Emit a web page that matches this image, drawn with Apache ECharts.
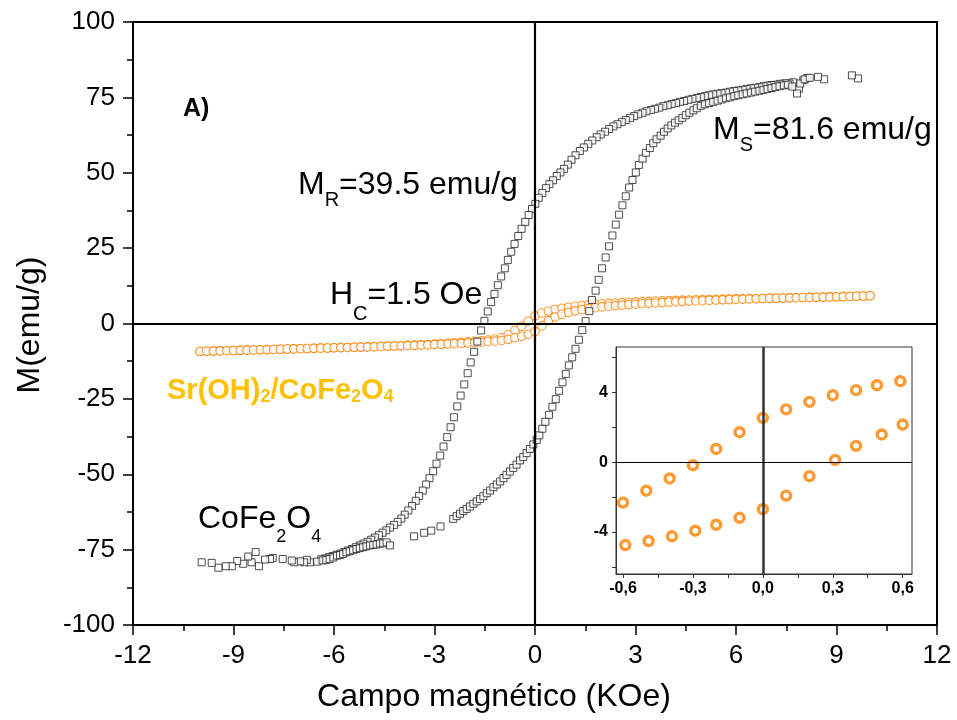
<!DOCTYPE html>
<html><head><meta charset="utf-8">
<script src="https://cdn.jsdelivr.net/npm/echarts@6/dist/echarts.min.js"></script>
<style>html,body{margin:0;padding:0;background:#fff}#c{width:957px;height:720px}</style>
</head><body><div id="c"></div>
<script>
// ---------- DATA ----------
const xTicks = [-12, -9, -6, -3, 0, 3, 6, 9, 12];
const yTicks = [-100, -75, -50, -25, 0, 25, 50, 75, 100];
const insetXLabels = [-0.6, -0.3, 0, 0.3, 0.6];
const insetXTicks = [-0.6, -0.45, -0.3, -0.15, 0, 0.15, 0.3, 0.45, 0.6];
const insetYLabels = [-4, 0, 4];
const insetYTicks = [-6, -4, -2, 0, 2, 4, 6];

// Sr(OH)2/CoFe2O4 main loop: field (kOe)
const fieldSr = [-10,-9.8,-9.6,-9.4,-9.2,-9,-8.8,-8.6,-8.4,-8.2,
  -8,-7.8,-7.6,-7.4,-7.2,-7,-6.8,-6.6,-6.4,-6.2,
  -6,-5.8,-5.6,-5.4,-5.2,-5,-4.8,-4.6,-4.4,-4.2,
  -4,-3.8,-3.6,-3.4,-3.2,-3,-2.8,-2.6,-2.4,-2.2,
  -2,-1.8,-1.6,-1.4,-1.2,-1,-0.8,-0.6,-0.4,-0.2,
  0,0.2,0.4,0.6,0.8,1,1.2,1.4,1.6,1.8,
  2,2.2,2.4,2.6,2.8,3,3.2,3.4,3.6,3.8,
  4,4.2,4.4,4.6,4.8,5,5.2,5.4,5.6,5.8,
  6,6.2,6.4,6.6,6.8,7,7.2,7.4,7.6,7.8,
  8,8.2,8.4,8.6,8.8,9,9.2,9.4,9.6,9.8,10];
// descending branch M (emu/g)
const srUpper = [-9.30,-9.22,-9.15,-9.08,-9.02,-8.96,-8.90,-8.84,-8.78,-8.72,
  -8.66,-8.60,-8.54,-8.48,-8.42,-8.36,-8.30,-8.24,-8.18,-8.12,
  -8.06,-8.00,-7.94,-7.88,-7.82,-7.76,-7.68,-7.60,-7.52,-7.44,
  -7.36,-7.27,-7.17,-7.07,-6.96,-6.84,-6.72,-6.58,-6.43,-6.27,
  -6.10,-5.91,-5.70,-5.45,-5.15,-4.75,-3.75,-2.31,-0.93,0.76,
  2.54,3.46,4.13,4.64,5.05,5.40,5.70,5.95,6.17,6.36,
  6.53,6.68,6.82,6.94,7.06,7.16,7.26,7.35,7.44,7.52,
  7.60,7.67,7.74,7.80,7.86,7.92,7.97,8.02,8.07,8.12,
  8.17,8.21,8.24,8.27,8.30,8.34,8.38,8.44,8.49,8.55,
  8.60,8.65,8.71,8.76,8.82,8.87,8.93,8.98,9.04,9.10,9.20];
// ascending branch M (emu/g)
const srLower = [-9.30,-9.22,-9.15,-9.08,-9.02,-8.96,-8.90,-8.84,-8.78,-8.72,
  -8.66,-8.60,-8.54,-8.48,-8.42,-8.36,-8.30,-8.24,-8.18,-8.12,
  -8.06,-8.00,-7.94,-7.88,-7.82,-7.76,-7.69,-7.62,-7.55,-7.48,
  -7.41,-7.34,-7.26,-7.18,-7.10,-7.01,-6.92,-6.82,-6.71,-6.60,
  -6.48,-6.35,-6.20,-6.04,-5.85,-5.62,-5.25,-4.74,-4.24,-3.58,
  -2.69,-0.80,0.94,2.16,3.05,3.70,4.20,4.60,4.94,5.24,
  5.50,5.73,5.93,6.11,6.27,6.42,6.56,6.69,6.81,6.93,
  7.05,7.16,7.27,7.37,7.47,7.57,7.66,7.75,7.84,7.92,
  8.00,8.07,8.14,8.21,8.27,8.33,8.38,8.44,8.49,8.55,
  8.60,8.65,8.71,8.76,8.82,8.87,8.93,8.98,9.04,9.10,9.20];

// CoFe2O4 loop [H (kOe), M (emu/g)]
const cofeDesc = [[9.64,81.3],[9.46,82.3],[8.63,81.0],[8.45,81.8],[8.12,81.4],[8.01,80.7],[7.88,77.9],[7.82,76.3],[7.71,80.0],[7.60,79.6],
  [7.47,79.7],[7.31,79.5],[7.19,79.2],[7.06,79.1],[6.94,78.9],[6.82,78.7],[6.70,78.4],[6.57,78.2],[6.45,78.0],[6.32,77.8],
  [6.20,77.5],[6.07,77.3],[5.95,77.1],[5.82,76.9],[5.70,76.6],[5.57,76.4],[5.45,76.2],[5.32,76.0],[5.20,75.7],[5.07,75.4],
  [4.95,75.1],[4.83,74.8],[4.70,74.5],[4.58,74.2],[4.45,73.8],[4.33,73.5],[4.21,73.1],[4.08,72.8],[3.96,72.4],[3.83,72.1],
  [3.71,71.6],[3.58,71.2],[3.46,70.8],[3.33,70.4],[3.21,69.9],[3.08,69.4],[2.96,68.8],[2.84,68.2],[2.71,67.5],[2.59,66.8],
  [2.46,66.1],[2.34,65.4],[2.21,64.5],[2.09,63.6],[1.96,62.7],[1.84,61.8],[1.71,60.7],[1.59,59.6],[1.46,58.4],[1.34,57.2],
  [1.21,55.8],[1.09,54.3],[0.98,52.7],[0.87,51.3],[0.76,50.1],[0.65,48.9],[0.54,47.5],[0.43,46.2],[0.33,44.9],[0.22,43.3],
  [0.11,41.7],[0.01,39.7],[-0.09,38.0],[-0.19,36.0],[-0.29,33.7],[-0.40,31.4],[-0.50,29.0],[-0.61,26.4],[-0.71,23.8],[-0.81,21.1],
  [-0.90,18.3],[-1.01,15.6],[-1.11,12.7],[-1.21,9.8],[-1.31,7.1],[-1.41,4.0],[-1.51,0.9],[-1.61,-2.3],[-1.72,-6.0],[-1.82,-9.4],
  [-1.92,-12.9],[-2.01,-16.5],[-2.11,-20.2],[-2.22,-23.9],[-2.32,-27.5],[-2.42,-31.1],[-2.52,-34.4],[-2.62,-37.7],[-2.73,-40.8],[-2.83,-43.8],
  [-2.94,-46.5],[-3.04,-49.0],[-3.15,-51.3],[-3.25,-53.4],[-3.35,-55.4],[-3.46,-57.2],[-3.56,-58.8],[-3.67,-60.5],[-3.78,-62.0],[-3.89,-63.4],
  [-3.99,-64.7],[-4.10,-65.8],[-4.21,-66.8],[-4.33,-67.7],[-4.44,-68.6],[-4.55,-69.4],[-4.66,-70.2],[-4.78,-71.0],[-4.89,-71.7],[-5.00,-72.4],
  [-5.12,-73.0],[-5.23,-73.6],[-5.35,-74.2],[-5.46,-74.8],[-5.58,-75.3],[-5.69,-75.8],[-5.81,-76.3],[-5.92,-76.7],[-6.04,-77.1],[-6.15,-77.5],
  [-6.27,-77.9],[-6.38,-78.2],[-6.72,-79.2],[-6.81,-78.4],[-6.89,-79.2],[-7.01,-78.9],[-7.19,-79.2],[-7.26,-78.6],[-7.53,-78.1],[-7.83,-77.8],
  [-7.91,-78.1],[-8.06,-78.3],[-8.24,-80.5],[-8.34,-75.8],[-8.46,-79.2],[-8.56,-77.3],[-8.71,-79.7],[-8.89,-78.8],[-9.05,-80.5],[-9.23,-80.5],
  [-9.45,-81.0],[-9.65,-79.4],[-9.95,-79.2]];
const cofeAsc = [[-6.50,-79.0],[-6.34,-78.6],[-6.23,-78.4],[-6.13,-78.1],[-6.02,-77.6],[-5.91,-77.0],[-5.82,-76.8],[-5.73,-76.4],[-5.63,-75.9],[-5.53,-75.5],
  [-5.43,-75.2],[-5.33,-74.8],[-5.23,-74.5],[-5.13,-74.2],[-5.03,-73.9],[-4.93,-73.6],[-4.83,-73.4],[-4.73,-73.3],[-4.63,-73.0],[-4.53,-72.9],
  [-4.43,-72.6],[-4.33,-73.6],[-3.61,-70.6],[-3.31,-69.4],[-3.10,-68.7],[-2.82,-67.3],[-2.44,-64.8],[-2.34,-63.9],[-2.24,-63.1],[-2.14,-62.2],
  [-2.04,-61.5],[-1.94,-60.7],[-1.84,-59.8],[-1.74,-59.0],[-1.64,-58.2],[-1.54,-57.3],[-1.44,-56.3],[-1.34,-55.4],[-1.24,-54.3],[-1.14,-53.4],
  [-1.04,-52.4],[-0.94,-51.3],[-0.85,-50.2],[-0.75,-49.1],[-0.65,-47.9],[-0.55,-46.8],[-0.45,-45.4],[-0.35,-44.3],[-0.25,-43.0],[-0.15,-41.6],
  [-0.05,-40.1],[0.05,-38.6],[0.13,-37.1],[0.22,-34.9],[0.31,-32.6],[0.42,-30.3],[0.52,-27.6],[0.62,-25.1],[0.72,-22.3],[0.82,-19.5],
  [0.92,-16.7],[1.01,-13.9],[1.11,-11.2],[1.21,-8.4],[1.31,-5.4],[1.41,-2.2],[1.51,0.8],[1.62,4.1],[1.70,7.8],[1.81,10.9],
  [1.90,14.5],[2.00,18.3],[2.11,21.9],[2.21,25.6],[2.31,29.2],[2.41,32.8],[2.51,36.1],[2.61,39.2],[2.71,42.2],[2.81,45.1],
  [2.91,47.6],[3.01,50.1],[3.10,52.6],[3.21,54.7],[3.31,56.6],[3.43,58.2],[3.53,59.8],[3.63,61.1],[3.75,62.3],[3.85,63.6],
  [3.96,64.7],[4.07,65.7],[4.18,66.6],[4.29,67.4],[4.40,68.2],[4.50,69.1],[4.61,69.9],[4.73,70.7],[4.83,71.4],[4.95,72.2],
  [5.07,72.7],[5.20,73.1],[5.32,73.5],[5.45,73.9],[5.57,74.3],[5.70,74.7],[5.82,75.0],[5.95,75.4],[6.07,75.7],[6.20,76.0],
  [6.32,76.3],[6.45,76.6],[6.57,76.9],[6.70,77.2],[6.82,77.5],[6.94,77.8],[7.06,78.1],[7.18,78.4],[7.30,78.7],[7.43,79.0],
  [7.55,79.2],[7.68,78.6],[7.92,79.6],[8.05,81.0],[8.20,81.5]];

// Inset (low-field zoom of Sr(OH)2/CoFe2O4)
const insetUpperH = [-0.60,-0.50,-0.40,-0.30,-0.20,-0.10,0.00,0.10,0.20,0.30,0.40,0.49,0.59];
const insetUpperM = [-2.31,-1.63,-0.93,-0.17,0.76,1.72,2.54,3.03,3.46,3.84,4.13,4.41,4.64];
const insetLowerH = [-0.59,-0.49,-0.39,-0.29,-0.20,-0.10,0.00,0.10,0.20,0.31,0.40,0.51,0.60];
const insetLowerM = [-4.74,-4.51,-4.24,-3.92,-3.58,-3.18,-2.69,-1.91,-0.80,0.13,0.94,1.59,2.16];

// ---------- CHART ----------
const FONT = "'Liberation Sans', Arial, Helvetica, sans-serif";
const ORANGE = '#FF8000';
const zip = (xs, ys) => xs.map((x, i) => [x, ys[i]]);
const comma = v => (Math.abs(v) < 1e-9 ? 0 : v).toFixed(1).replace('.', ',');

const chart = echarts.init(document.getElementById('c'), null, {renderer: 'canvas'});

const mainAxisCommon = {
  type: 'value',
  axisLine: {show: true, onZero: false, lineStyle: {color: '#000', width: 2}},
  axisTick: {show: true, inside: false, length: 10, lineStyle: {color: '#000', width: 1.5}},
  minorTick: {show: true, splitNumber: 2, length: 6, lineStyle: {color: '#000', width: 1.5}},
  splitLine: {show: false},
  axisLabel: {fontSize: 26, color: '#000', fontFamily: FONT}
};

const option = {
  animation: false,
  backgroundColor: '#fff',
  grid: [
    {left: 133, right: 20, top: 22, bottom: 95, show: true, borderColor: '#000', borderWidth: 2, backgroundColor: 'transparent'},
    {left: 616, top: 347, width: 296, height: 227, show: true, borderColor: '#333', borderWidth: 1, backgroundColor: '#fff'}
  ],
  xAxis: [
    Object.assign({}, mainAxisCommon, {gridIndex: 0, min: xTicks[0], max: xTicks[xTicks.length - 1], interval: 3,
      axisLabel: Object.assign({}, mainAxisCommon.axisLabel, {margin: 18})}),
    {gridIndex: 1, type: 'value', min: -0.63, max: 0.64,
      axisLine: {show: true, onZero: false, lineStyle: {color: '#333', width: 1}},
      axisTick: {show: true, customValues: insetXTicks, length: 4, lineStyle: {color: '#333'}},
      axisLabel: {customValues: insetXLabels, formatter: comma, fontSize: 16, fontWeight: 'bold', color: '#000', fontFamily: FONT, margin: 7},
      splitLine: {show: false}}
  ],
  yAxis: [
    Object.assign({}, mainAxisCommon, {gridIndex: 0, min: yTicks[0], max: yTicks[yTicks.length - 1], interval: 25,
      axisLabel: Object.assign({}, mainAxisCommon.axisLabel, {margin: 18})}),
    {gridIndex: 1, type: 'value', min: -6.4, max: 6.6,
      axisLine: {show: true, onZero: false, lineStyle: {color: '#333', width: 1}},
      axisTick: {show: true, customValues: insetYTicks, length: 4, lineStyle: {color: '#333'}},
      axisLabel: {customValues: insetYLabels, fontSize: 16, fontWeight: 'bold', color: '#000', fontFamily: FONT, margin: 8},
      splitLine: {show: false}}
  ],
  series: [
    {type: 'scatter', xAxisIndex: 0, yAxisIndex: 0, data: zip(fieldSr, srUpper), symbol: 'circle', symbolSize: 8.5,
      itemStyle: {color: '#fff', borderColor: ORANGE, borderWidth: 1.1}},
    {type: 'scatter', xAxisIndex: 0, yAxisIndex: 0, data: zip(fieldSr, srLower), symbol: 'circle', symbolSize: 8.5,
      itemStyle: {color: '#fff', borderColor: ORANGE, borderWidth: 1.1}},
    {type: 'scatter', xAxisIndex: 0, yAxisIndex: 0, data: [],
      markLine: {silent: true, symbol: ['none', 'none'], label: {show: false}, animation: false,
        lineStyle: {color: '#000', width: 2.2, type: 'solid'}, data: [{xAxis: 0}, {yAxis: 0}]}},
    {type: 'scatter', xAxisIndex: 0, yAxisIndex: 0, data: cofeDesc.concat(cofeAsc), symbol: 'rect', symbolSize: 7,
      itemStyle: {color: '#fff', borderColor: '#222', borderWidth: 1}},
    {type: 'scatter', xAxisIndex: 1, yAxisIndex: 1, data: [],
      markLine: {silent: true, symbol: ['none', 'none'], label: {show: false}, animation: false,
        data: [{xAxis: 0, lineStyle: {color: '#333', width: 2.5, type: 'solid'}}, {yAxis: 0, lineStyle: {color: '#000', width: 1, type: 'solid'}}]}},
    {type: 'scatter', xAxisIndex: 1, yAxisIndex: 1, data: zip(insetUpperH, insetUpperM).concat(zip(insetLowerH, insetLowerM)),
      symbol: 'circle', symbolSize: 9, itemStyle: {color: '#fff', borderColor: ORANGE, borderWidth: 3.4}}
  ],
  graphic: [
    {type: 'text', x: 30, y: 325, rotation: Math.PI / 2,
      style: {text: 'M(emu/g)', fontSize: 32, fontFamily: FONT, fill: '#000', align: 'center', verticalAlign: 'middle'}},
    {type: 'text', x: 494, y: 697,
      style: {text: 'Campo magnético (KOe)', fontSize: 32, fontFamily: FONT, fill: '#000', align: 'center', verticalAlign: 'middle'}},
    {type: 'text', x: 183, y: 109,
      style: {text: 'A)', fontSize: 25, fontWeight: 'bold', fontFamily: FONT, fill: '#000', verticalAlign: 'middle'}},
    {type: 'text', x: 298, y: 169,
      style: {text: '{m|M}{s|R}{m|=39.5 emu/g}', verticalAlign: 'top', fill: '#000', fontFamily: FONT, fontSize: 32,
        rich: {m: {fontSize: 32, lineHeight: 32, fontFamily: FONT, fill: '#000', verticalAlign: 'top'},
               s: {fontSize: 20, lineHeight: 14, fontFamily: FONT, fill: '#000', verticalAlign: 'top', padding: [21, 0, 0, 0]}}}},
    {type: 'text', x: 713, y: 114,
      style: {text: '{m|M}{s|S}{m|=81.6 emu/g}', verticalAlign: 'top', fill: '#000', fontFamily: FONT, fontSize: 32,
        rich: {m: {fontSize: 32, lineHeight: 32, fontFamily: FONT, fill: '#000', verticalAlign: 'top'},
               s: {fontSize: 20, lineHeight: 14, fontFamily: FONT, fill: '#000', verticalAlign: 'top', padding: [21, 0, 0, 0]}}}},
    {type: 'text', x: 330, y: 279,
      style: {text: '{m|H}{s|C}{m|=1.5 Oe}', verticalAlign: 'top', fill: '#000', fontFamily: FONT, fontSize: 32,
        rich: {m: {fontSize: 32, lineHeight: 32, fontFamily: FONT, fill: '#000', verticalAlign: 'top'},
               s: {fontSize: 20, lineHeight: 14, fontFamily: FONT, fill: '#000', verticalAlign: 'top', padding: [25, 0, 0, 0]}}}},
    {type: 'text', x: 198, y: 503,
      style: {text: '{m|CoFe}{s|2}{m|O}{s|4}', verticalAlign: 'top', fill: '#000', fontFamily: FONT, fontSize: 32,
        rich: {m: {fontSize: 32, lineHeight: 32, fontFamily: FONT, fill: '#000', verticalAlign: 'top'},
               s: {fontSize: 18, lineHeight: 14, fontFamily: FONT, fill: '#000', verticalAlign: 'top', padding: [25, 0, 0, 0]}}}},
    {type: 'text', x: 167, y: 376,
      style: {text: '{m|Sr(OH)}{s|2}{m|/CoFe}{s|2}{m|O}{s|4}', verticalAlign: 'top', fill: '#FFC000', fontFamily: FONT, fontSize: 29, fontWeight: 'bold',
        rich: {m: {fontSize: 29, lineHeight: 28, fontFamily: FONT, fontWeight: 'bold', fill: '#FFC000', verticalAlign: 'top'},
               s: {fontSize: 18, lineHeight: 14, fontFamily: FONT, fontWeight: 'bold', fill: '#FFC000', verticalAlign: 'top', padding: [12, 0, 0, 0]}}}}
  ]
};
chart.setOption(option);
</script>
</body></html>
